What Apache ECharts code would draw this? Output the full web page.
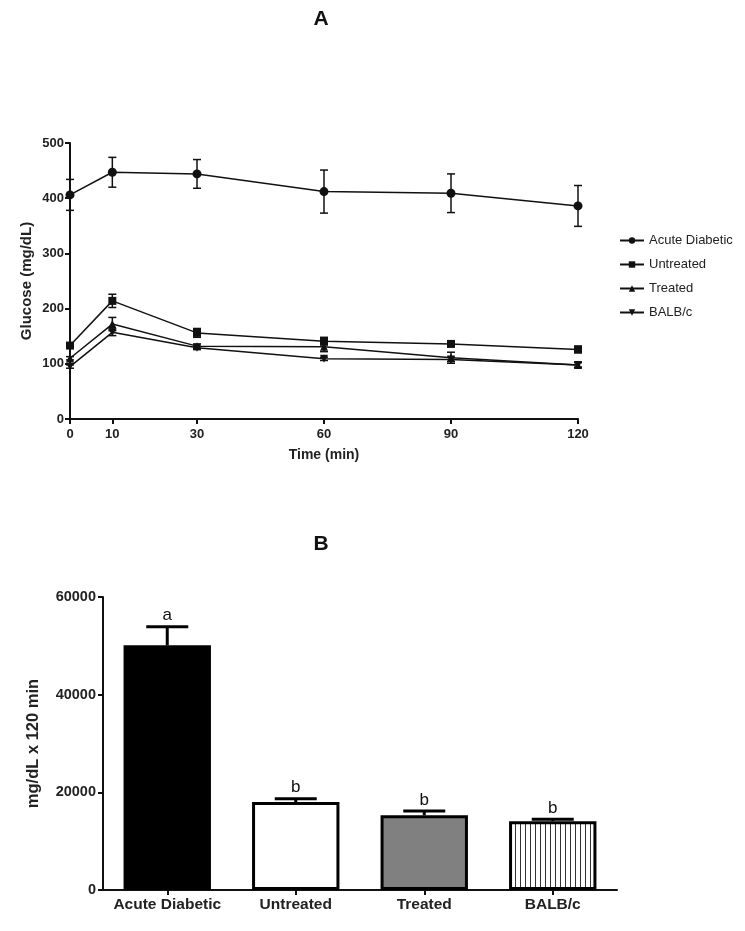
<!DOCTYPE html>
<html><head><meta charset="utf-8">
<script src="https://cdn.jsdelivr.net/npm/echarts@6/dist/echarts.min.js"></script>
<style>html,body{margin:0;padding:0;background:#fff}#c{width:745px;height:931px}</style>
</head><body><div id="c"></div>
<script>
// ---- Data: panel A ----
const times = [0, 10, 30, 60, 90, 120];
const timeTicks = [0, 10, 30, 60, 90, 120];
const glucoseTicks = [0, 100, 200, 300, 400, 500];
const seriesNames = ['Acute Diabetic', 'Untreated', 'Treated', 'BALB/c'];
const acuteMean = [406, 447, 444, 412, 409, 386];
const acuteErr  = [28, 27, 26, 39, 35, 37];
const untreatedMean = [133, 214, 156, 141, 136, 126];
const untreatedErr  = [3, 12, 8, 7, 3, 6];
const treatedMean = [110, 172, 132, 131, 111, 98];
const treatedErr  = [3, 12, 4, 9, 10, 4];
const balbMean = [95, 157, 129, 109, 108, 98];
const balbErr  = [3, 6, 3, 3, 4, 5];
// ---- Data: panel B ----
const groups = ['Acute Diabetic', 'Untreated', 'Treated', 'BALB/c'];
const aucMean = [50100, 18000, 15300, 14100];
const aucErr  = [3800, 700, 900, 400];
const aucLetters = ['a', 'b', 'b', 'b'];
const aucTicks = [0, 20000, 40000, 60000];

const FONT = 'Arial, "Liberation Sans", sans-serif';
const chart = echarts.init(document.getElementById('c'));

// stripe pattern for BALB/c
const pat = document.createElement('canvas');
pat.width = 5; pat.height = 5;
const pc = pat.getContext('2d');
pc.fillStyle = '#fff'; pc.fillRect(0, 0, 5, 5);
pc.fillStyle = '#333'; pc.fillRect(0, 0, 1, 5);

const means = [acuteMean, untreatedMean, treatedMean, balbMean];
const errs = [acuteErr, untreatedErr, treatedErr, balbErr];
const symbols = ['circle', 'rect', 'triangle', 'path://M0,0 L10,0 L5,10 Z'];
const symSizes = [9, 8, 8, 8];

const lineSeries = seriesNames.map((n, i) => ({
  name: n, type: 'line', xAxisIndex: 0, yAxisIndex: 0,
  data: times.map((t, j) => [t, means[i][j]]),
  symbol: symbols[i], symbolSize: symSizes[i], showSymbol: true,
  lineStyle: { color: '#111', width: 1.5 },
  itemStyle: { color: '#111' }, z: 5
}));

const errData = [];
means.forEach((m, i) => m.forEach((v, j) => errData.push([times[j], v - errs[i][j], v + errs[i][j]])));

const errSeriesA = {
  type: 'custom', xAxisIndex: 0, yAxisIndex: 0, z: 4,
  data: errData,
  renderItem: function (params, api) {
    const lo = api.coord([api.value(0), api.value(1)]);
    const hi = api.coord([api.value(0), api.value(2)]);
    const w = 4;
    const st = { stroke: '#111', lineWidth: 1.5 };
    return { type: 'group', children: [
      { type: 'line', shape: { x1: lo[0], y1: lo[1], x2: hi[0], y2: hi[1] }, style: st },
      { type: 'line', shape: { x1: lo[0] - w, y1: lo[1], x2: lo[0] + w, y2: lo[1] }, style: st },
      { type: 'line', shape: { x1: hi[0] - w, y1: hi[1], x2: hi[0] + w, y2: hi[1] }, style: st }
    ]};
  }
};

const barColors = ['#000', '#fff', '#808080', { image: pat, repeat: 'repeat' }];
const barSeries = {
  type: 'bar', xAxisIndex: 1, yAxisIndex: 1, barWidth: '68%',
  data: aucMean.map((v, i) => ({ value: v, itemStyle: { color: barColors[i], borderColor: '#000', borderWidth: 3 } })),
  z: 3
};
const errSeriesB = {
  type: 'custom', xAxisIndex: 1, yAxisIndex: 1, z: 6,
  data: aucMean.map((v, i) => [i, v, v + aucErr[i]]),
  renderItem: function (params, api) {
    const i = params.dataIndex;
    const lo = api.coord([api.value(0), api.value(1)]);
    const hi = api.coord([api.value(0), api.value(2)]);
    const w = 21;
    const st = { stroke: '#000', lineWidth: 3 };
    return { type: 'group', children: [
      { type: 'line', shape: { x1: lo[0], y1: lo[1], x2: hi[0], y2: hi[1] }, style: st },
      { type: 'line', shape: { x1: hi[0] - w, y1: hi[1], x2: hi[0] + w, y2: hi[1] }, style: st },
      { type: 'text', style: { text: aucLetters[i], x: hi[0], y: hi[1] - 11, align: 'center', verticalAlign: 'middle',
        font: '17px ' + FONT, fill: '#111' } }
    ]};
  }
};

const axisLine = { show: true, lineStyle: { color: '#111', width: 2 } };
const axisTick = { show: true, length: 5, lineStyle: { color: '#111', width: 2 } };
const tickLabel = { color: '#222', fontFamily: FONT, fontWeight: 'bold', fontSize: 13 };

chart.setOption({
  animation: false,
  title: [
    { text: 'A', left: 316, top: 4, textAlign: 'center', textStyle: { fontFamily: FONT, fontWeight: 'bold', fontSize: 21, color: '#111' } },
    { text: 'B', left: 316, top: 529, textAlign: 'center', textStyle: { fontFamily: FONT, fontWeight: 'bold', fontSize: 21, color: '#111' } }
  ],
  legend: {
    data: seriesNames, orient: 'vertical', left: 614, top: 229, itemGap: 11,
    itemWidth: 24, itemHeight: 8,
    textStyle: { fontFamily: FONT, fontSize: 13, color: '#222' },
    selectedMode: false
  },
  grid: [
    { left: 70, right: 167, top: 143, bottom: 512 },
    { left: 103, right: 128, top: 597, bottom: 41 }
  ],
  xAxis: [
    { type: 'value', gridIndex: 0, min: 0, max: 120, interval: 10,
      name: 'Time (min)', nameLocation: 'middle', nameGap: 29,
      nameTextStyle: { fontFamily: FONT, fontWeight: 'bold', fontSize: 14, color: '#222' },
      axisLine, splitLine: { show: false },
      axisTick: Object.assign({}, axisTick, { customValues: timeTicks }),
      axisLabel: Object.assign({}, tickLabel, { customValues: timeTicks, margin: 9 }) },
    { type: 'category', gridIndex: 1, data: groups,
      axisLine, axisTick: Object.assign({}, axisTick, { alignWithLabel: true }),
      axisLabel: Object.assign({}, tickLabel, { fontSize: 15.5, margin: 7, interval: 0, hideOverlap: false }) }
  ],
  yAxis: [
    { type: 'value', gridIndex: 0, min: 0, max: 500, interval: 100,
      name: 'Glucose (mg/dL)', nameLocation: 'middle', nameGap: 36, nameRotate: 90, nameMoveOverlap: false,
      nameTextStyle: { fontFamily: FONT, fontWeight: 'bold', fontSize: 15, color: '#222' },
      axisLine, axisTick, splitLine: { show: false },
      axisLabel: Object.assign({}, tickLabel, { margin: 6 }) },
    { type: 'value', gridIndex: 1, min: 0, max: 60000, interval: 20000,
      name: 'mg/dL x 120 min', nameLocation: 'middle', nameGap: 61, nameRotate: 90,
      nameTextStyle: { fontFamily: FONT, fontWeight: 'bold', fontSize: 16.5, color: '#222' },
      axisLine, axisTick, splitLine: { show: false },
      axisLabel: Object.assign({}, tickLabel, { fontSize: 14.5, margin: 7, formatter: v => String(v) }) }
  ],
  series: [...lineSeries, errSeriesA, barSeries, errSeriesB]
});
</script></body></html>
